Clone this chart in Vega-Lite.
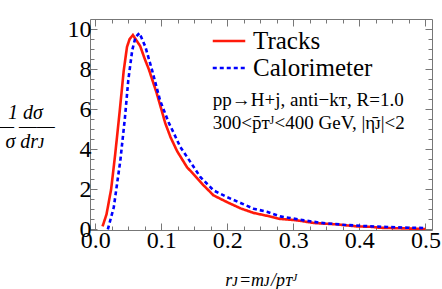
{
  "$schema": "https://vega.github.io/schema/vega-lite/v6.json",
  "width": 342,
  "height": 211,
  "autosize": {"type": "none"},
  "padding": {"left": 90, "top": 19, "right": 10, "bottom": 59},
  "background": "white",
  "config": {
    "view": {"stroke": "#777", "strokeWidth": 1},
    "font": "Liberation Serif",
    "axis": {"grid": false, "domain": false, "tickColor": "#777", "tickWidth": 1, "labelColor": "black", "titleColor": "black", "labelFont": "Liberation Serif", "titleFont": "Liberation Serif"},
    "legend": {"labelFont": "Liberation Serif"},
    "text": {"font": "Liberation Serif"}
  },
  "datasets": {
    "curves": [
      {"r": 0.011, "v": 0.15, "s": "Tracks"},
      {"r": 0.017, "v": 0.75, "s": "Tracks"},
      {"r": 0.024, "v": 2.0, "s": "Tracks"},
      {"r": 0.030, "v": 3.7, "s": "Tracks"},
      {"r": 0.037, "v": 5.9, "s": "Tracks"},
      {"r": 0.043, "v": 7.9, "s": "Tracks"},
      {"r": 0.048, "v": 9.1, "s": "Tracks"},
      {"r": 0.052, "v": 9.5, "s": "Tracks"},
      {"r": 0.057, "v": 9.7, "s": "Tracks"},
      {"r": 0.063, "v": 9.4, "s": "Tracks"},
      {"r": 0.068, "v": 9.15, "s": "Tracks"},
      {"r": 0.075, "v": 8.5, "s": "Tracks"},
      {"r": 0.081, "v": 8.0, "s": "Tracks"},
      {"r": 0.093, "v": 6.8, "s": "Tracks"},
      {"r": 0.100, "v": 6.0, "s": "Tracks"},
      {"r": 0.106, "v": 5.3, "s": "Tracks"},
      {"r": 0.114, "v": 4.6, "s": "Tracks"},
      {"r": 0.124, "v": 3.9, "s": "Tracks"},
      {"r": 0.139, "v": 3.1, "s": "Tracks"},
      {"r": 0.149, "v": 2.75, "s": "Tracks"},
      {"r": 0.164, "v": 2.2, "s": "Tracks"},
      {"r": 0.179, "v": 1.7, "s": "Tracks"},
      {"r": 0.199, "v": 1.37, "s": "Tracks"},
      {"r": 0.220, "v": 1.05, "s": "Tracks"},
      {"r": 0.240, "v": 0.82, "s": "Tracks"},
      {"r": 0.260, "v": 0.68, "s": "Tracks"},
      {"r": 0.278, "v": 0.53, "s": "Tracks"},
      {"r": 0.306, "v": 0.45, "s": "Tracks"},
      {"r": 0.331, "v": 0.32, "s": "Tracks"},
      {"r": 0.366, "v": 0.25, "s": "Tracks"},
      {"r": 0.396, "v": 0.15, "s": "Tracks"},
      {"r": 0.417, "v": 0.13, "s": "Tracks"},
      {"r": 0.432, "v": 0.08, "s": "Tracks"},
      {"r": 0.467, "v": 0.05, "s": "Tracks"},
      {"r": 0.500, "v": 0.02, "s": "Tracks"},
      {"r": 0.019, "v": 0.0, "s": "Calorimeter"},
      {"r": 0.028, "v": 1.1, "s": "Calorimeter"},
      {"r": 0.038, "v": 3.45, "s": "Calorimeter"},
      {"r": 0.045, "v": 5.6, "s": "Calorimeter"},
      {"r": 0.050, "v": 7.45, "s": "Calorimeter"},
      {"r": 0.056, "v": 8.95, "s": "Calorimeter"},
      {"r": 0.061, "v": 9.6, "s": "Calorimeter"},
      {"r": 0.067, "v": 9.8, "s": "Calorimeter"},
      {"r": 0.076, "v": 9.1, "s": "Calorimeter"},
      {"r": 0.086, "v": 7.95, "s": "Calorimeter"},
      {"r": 0.098, "v": 6.45, "s": "Calorimeter"},
      {"r": 0.111, "v": 5.35, "s": "Calorimeter"},
      {"r": 0.129, "v": 4.1, "s": "Calorimeter"},
      {"r": 0.144, "v": 3.37, "s": "Calorimeter"},
      {"r": 0.159, "v": 2.62, "s": "Calorimeter"},
      {"r": 0.179, "v": 1.95, "s": "Calorimeter"},
      {"r": 0.199, "v": 1.62, "s": "Calorimeter"},
      {"r": 0.220, "v": 1.32, "s": "Calorimeter"},
      {"r": 0.240, "v": 1.03, "s": "Calorimeter"},
      {"r": 0.260, "v": 0.88, "s": "Calorimeter"},
      {"r": 0.268, "v": 0.78, "s": "Calorimeter"},
      {"r": 0.280, "v": 0.65, "s": "Calorimeter"},
      {"r": 0.295, "v": 0.57, "s": "Calorimeter"},
      {"r": 0.316, "v": 0.45, "s": "Calorimeter"},
      {"r": 0.341, "v": 0.33, "s": "Calorimeter"},
      {"r": 0.376, "v": 0.23, "s": "Calorimeter"},
      {"r": 0.406, "v": 0.17, "s": "Calorimeter"},
      {"r": 0.442, "v": 0.12, "s": "Calorimeter"},
      {"r": 0.477, "v": 0.08, "s": "Calorimeter"},
      {"r": 0.500, "v": 0.07, "s": "Calorimeter"}
    ],
    "note": [{"t": "pp→H+j, anti−kᴛ, R=1.0\n300<p̄ᴛᴶ<400 GeV, |η̄ᴊ|<2"}]
  },
  "layer": [
    {
      "data": {"name": "curves"},
      "mark": {"type": "line", "strokeWidth": 2.6, "clip": true},
      "encoding": {
        "x": {
          "field": "r", "type": "quantitative",
          "scale": {"domain": [-0.008, 0.51], "nice": false, "zero": false},
          "axis": {"orient": "bottom", "values": [0, 0.1, 0.2, 0.3, 0.4, 0.5], "format": ".1f", "tickSize": -7, "labelFontSize": 24, "labelPadding": 5, "labelFlush": false,
            "title": "rᴊ=mᴊ/pᴛᴶ", "titleFontSize": 18, "titleFontStyle": "italic", "titleFontWeight": "normal", "titleBaseline": "alphabetic", "titleY": 55}
        },
        "y": {
          "field": "v", "type": "quantitative",
          "scale": {"domain": [-0.03, 10.5], "nice": false, "zero": false},
          "axis": {"orient": "left", "values": [0, 2, 4, 6, 8, 10], "tickSize": -7, "labelFontSize": 24, "labelPadding": 6, "labelFlush": false,
            "title": ["1    dσ", "—  ——", "σ   drᴊ"], "titleAngle": 0, "titleFontSize": 20, "titleFontStyle": "italic", "titleFontWeight": "normal", "titleLineHeight": 14.5, "titleAlign": "center", "titleBaseline": "middle", "titleX": -65, "titleY": 93}
        },
        "color": {
          "field": "s", "type": "nominal",
          "scale": {"domain": ["Tracks", "Calorimeter"], "range": ["#ff1a0a", "#0000ff"]},
          "legend": {"title": null, "orient": "none", "legendX": 125, "legendY": 8, "labelFontSize": 25, "labelColor": "black", "symbolType": "M-1.3,0L1.3,0", "symbolSize": 625, "symbolStrokeWidth": 2.6, "symbolFillColor": "transparent", "labelOffset": 10, "rowPadding": 0}
        },
        "strokeDash": {
          "field": "s", "type": "nominal",
          "scale": {"domain": ["Tracks", "Calorimeter"], "range": [[1, 0], [4, 3]]},
          "legend": {"title": null, "orient": "none", "legendX": 125, "legendY": 8, "labelFontSize": 25, "labelColor": "black", "symbolType": "M-1.3,0L1.3,0", "symbolSize": 625, "symbolStrokeWidth": 2.6, "symbolFillColor": "transparent", "labelOffset": 10, "rowPadding": 0}
        }
      }
    },
    {
      "data": {"name": "curves"},
      "mark": {"type": "point", "opacity": 0},
      "encoding": {
        "x": {"field": "r", "type": "quantitative",
          "axis": {"orient": "bottom", "values": [0.025, 0.05, 0.075, 0.125, 0.15, 0.175, 0.225, 0.25, 0.275, 0.325, 0.35, 0.375, 0.425, 0.45, 0.475], "labels": false, "tickSize": -4, "title": null}},
        "y": {"field": "v", "type": "quantitative",
          "axis": {"orient": "left", "values": [0.5, 1, 1.5, 2.5, 3, 3.5, 4.5, 5, 5.5, 6.5, 7, 7.5, 8.5, 9, 9.5], "labels": false, "tickSize": -4, "title": null}}
      }
    },
    {
      "data": {"name": "curves"},
      "mark": {"type": "point", "opacity": 0},
      "encoding": {
        "x": {"field": "r", "type": "quantitative",
          "axis": {"orient": "top", "values": [0, 0.1, 0.2, 0.3, 0.4, 0.5], "labels": false, "tickSize": -7, "title": null}},
        "y": {"field": "v", "type": "quantitative",
          "axis": {"orient": "right", "values": [0, 2, 4, 6, 8, 10], "labels": false, "tickSize": -7, "title": null}}
      }
    },
    {
      "data": {"name": "curves"},
      "mark": {"type": "point", "opacity": 0},
      "encoding": {
        "x": {"field": "r", "type": "quantitative",
          "axis": {"orient": "top", "values": [0.025, 0.05, 0.075, 0.125, 0.15, 0.175, 0.225, 0.25, 0.275, 0.325, 0.35, 0.375, 0.425, 0.45, 0.475], "labels": false, "tickSize": -4, "title": null}},
        "y": {"field": "v", "type": "quantitative",
          "axis": {"orient": "right", "values": [0.5, 1, 1.5, 2.5, 3, 3.5, 4.5, 5, 5.5, 6.5, 7, 7.5, 8.5, 9, 9.5], "labels": false, "tickSize": -4, "title": null}}
      }
    },
    {
      "data": {"name": "note"},
      "mark": {"type": "text", "align": "left", "baseline": "middle", "fontSize": 19, "lineBreak": "\n", "lineHeight": 23, "color": "black"},
      "encoding": {
        "x": {"datum": 0.178, "type": "quantitative", "axis": null},
        "y": {"datum": 6.48, "type": "quantitative", "axis": null},
        "text": {"field": "t"}
      }
    }
  ],
  "resolve": {"axis": {"x": "independent", "y": "independent"}}
}
